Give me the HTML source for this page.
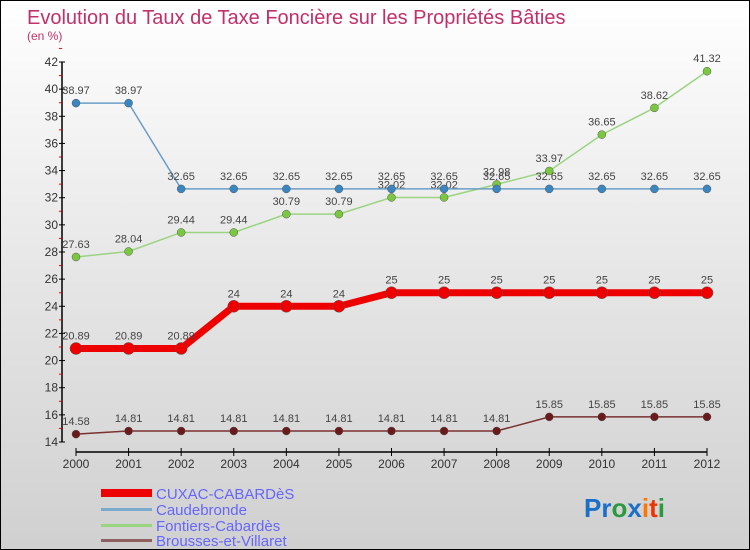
<!DOCTYPE html>
<html><head><meta charset="utf-8"><style>
html,body{margin:0;padding:0}
body{width:750px;height:550px;overflow:hidden;font-family:"Liberation Sans",sans-serif}
#wrap{position:relative;width:748px;height:548px;border:1px solid #000;background:linear-gradient(#ffffff,#e6e6e6 50%,#d0d0d0)}
</style></head><body>
<div id="wrap">
<svg id="chart" width="748" height="548" style="position:absolute;left:0;top:0">
<text x="26" y="23" font-size="20" fill="#c0306a">Evolution du Taux de Taxe Foncière sur les Propriétés Bâties</text>
<text x="26" y="39" font-size="12" fill="#c0306a">(en %)</text>
<g id="axes"></g><g id="series"></g>
<g>
<rect x="100" y="488" width="51" height="8" fill="#ee0000"/>
<text x="155" y="498" font-size="15" fill="#6666ff">CUXAC-CABARDèS</text>
<rect x="100" y="507" width="51" height="3" fill="#7aaacc"/>
<text x="155" y="514" font-size="15" fill="#6666ff">Caudebronde</text>
<rect x="100" y="523" width="51" height="3" fill="#9ad480"/>
<text x="155" y="530" font-size="15" fill="#6666ff">Fontiers-Cabardès</text>
<rect x="100" y="538" width="51" height="3" fill="#906060"/>
<text x="155" y="545" font-size="15" fill="#6666ff">Brousses-et-Villaret</text>
</g>
<g font-size="26" font-weight="bold">
<text x="583" y="516"><tspan fill="#1a70c8">Pr</tspan><tspan fill="#2a9a40">o</tspan><tspan fill="#1a70c8">x</tspan><tspan fill="#ff7700">i</tspan><tspan fill="#ee3300">t</tspan><tspan fill="#2a9a40">i</tspan></text>
</g>
</svg>
</div>
<script>
const years=[2000,2001,2002,2003,2004,2005,2006,2007,2008,2009,2010,2011,2012];
const cuxac=[20.89,20.89,20.89,24,24,24,25,25,25,25,25,25,25];
const caudebronde=[38.97,38.97,32.65,32.65,32.65,32.65,32.65,32.65,32.65,32.65,32.65,32.65,32.65];
const fontiers=[27.63,28.04,29.44,29.44,30.79,30.79,32.02,32.02,32.98,33.97,36.65,38.62,41.32];
const brousses=[14.58,14.81,14.81,14.81,14.81,14.81,14.81,14.81,14.81,15.85,15.85,15.85,15.85];
const yTicks=[14,16,18,20,22,24,26,28,30,32,34,36,38,40,42];
const NS='http://www.w3.org/2000/svg';
const X=v=>75+(v-2000)*(706-75)/12;
const Y=v=>441-(v-14)*(441-61)/28;
function el(t,a,p){const e=document.createElementNS(NS,t);for(const k in a)e.setAttribute(k,a[k]);p.appendChild(e);return e;}
const ax=document.getElementById('axes');
const yl=el('line',{x1:61,y1:Y(42),x2:61,y2:Y(14),stroke:'#000','stroke-width':1.5},ax);


const xl=el('line',{x1:X(2000),y1:451,x2:X(2012),y2:451,stroke:'#000','stroke-width':1.5},ax);


yTicks.forEach(t=>{
  el('line',{x1:58,y1:Y(t),x2:64,y2:Y(t),stroke:'#000'},ax);
  el('line',{x1:58,y1:Y(t+1),x2:61,y2:Y(t+1),stroke:'#e00'},ax);
  const tx=el('text',{x:57,y:Y(t)+4,'font-size':12,'text-anchor':'end',fill:'#333'},ax);
  tx.textContent=t;
  
  
});
years.forEach(y=>{
  el('line',{x1:X(y),y1:447,x2:X(y),y2:455,stroke:'#000'},ax);
  const tx=el('text',{x:X(y),y:467,'font-size':12,'text-anchor':'middle',fill:'#333'},ax);
  tx.textContent=y;
  
  
});
const sg=document.getElementById('series');
function series(name,data,color,w,r,fill){
  const g=el('g',{},sg);
  
  
  const pl=el('polyline',{points:data.map((v,i)=>X(years[i])+','+Y(v)).join(' '),fill:'none',stroke:color,'stroke-width':w},g);
  
  
  data.forEach((v,i)=>{
    const c=el('circle',{cx:X(years[i]),cy:Y(v),r:r,fill:fill,stroke:'#555','stroke-width':0.5},g);
    
    
    const t=el('text',{x:X(years[i]),y:Y(v)-9,'font-size':11,'text-anchor':'middle',fill:'#444'},g);
    t.textContent=String(v);
    
    
  });
}
series('brousses',brousses,'#7a3030',1.5,4,'#6a1a1a');
series('fontiers',fontiers,'#9ad480',1.5,4,'#7ac840');
series('caudebronde',caudebronde,'#6a9ec8',1.5,4,'#3a86c0');
series('cuxac',cuxac,'#ee0000',7,6,'#ee0000');
</script>
</body></html>
